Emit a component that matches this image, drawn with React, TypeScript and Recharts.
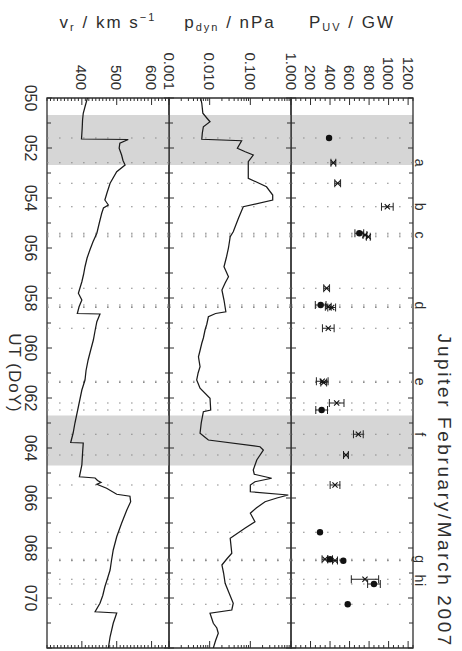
import React from "react";
import {
  ComposedChart,
  Line,
  Scatter,
  ErrorBar,
  XAxis,
  YAxis,
  ReferenceArea,
  ReferenceLine,
} from "recharts";

// day of year 2007
const doyDomain = [50, 72];
const doyLabels = [50, 52, 54, 56, 58, 60, 62, 64, 66, 68, 70];

// shaded intervals
const bandStart = [50.68, 62.7];
const bandEnd = [52.68, 64.7];

// solar wind radial velocity (km/s)
const vrDoy = [
  50.0, 50.3, 50.61, 50.88, 51.2, 51.64, 51.66, 51.81, 52.01, 52.28, 52.5, 52.68, 52.95, 53.41,
  53.8, 54.08, 54.28, 54.4, 54.61, 55.0, 55.41, 55.75, 56.08, 56.4, 56.75, 57.05, 57.35, 57.81,
  58.08, 58.35, 58.62, 58.64, 58.95, 59.3, 59.68, 60.1, 60.48, 60.9, 61.28, 61.68, 62.35, 63.01,
  63.4, 63.78, 63.8, 64.21, 64.68, 65.15, 65.2, 65.3, 65.38, 65.45, 65.61, 65.85, 65.93, 66.15,
  66.48, 67.01, 67.55, 68.08, 68.5, 68.88, 69.2, 69.55, 69.9, 70.21, 70.55, 70.6, 71.01, 71.55, 72.0,
];
const vrSpeed = [
  416, 410, 404, 402, 401, 399, 533, 509, 507, 514, 518, 524, 500, 481,
  472, 466, 476, 462, 457, 450, 443, 432, 423, 415, 409, 405, 400, 390,
  400, 392, 387, 452, 443, 438, 433, 425, 418, 412, 409, 400, 390, 380,
  375, 368, 404, 402, 400, 393, 438, 445, 455, 443, 471, 500, 538, 540,
  529, 514, 500, 490, 485, 481, 474, 466, 460, 452, 438, 500, 490, 481, 476,
];

// solar wind dynamic pressure (nPa)
const pdynDoy = [
  50.0, 50.21, 50.61, 50.8, 50.95, 51.15, 51.4, 51.65, 51.71, 52.01, 52.15, 52.28, 52.55, 53.21,
  53.55, 53.88, 54.08, 54.35, 54.81, 55.35, 55.55, 56.0, 56.35, 56.75, 57.15, 57.4, 57.68, 58.08,
  58.55, 58.62, 58.75, 59.05, 59.28, 59.6, 59.81, 60.1, 60.35, 60.75, 61.0, 61.28, 61.61, 62.01,
  62.48, 62.55, 63.0, 63.41, 63.68, 63.95, 64.08, 64.48, 64.88, 65.05, 65.21, 65.35, 65.48, 65.75,
  65.88, 66.0, 66.15, 66.4, 66.61, 66.95, 67.2, 67.61, 68.21, 68.45, 68.68, 69.0, 69.41, 69.8,
  70.21, 70.48, 70.61, 71.01, 71.2, 71.41, 71.7, 72.0,
];
const pdynPressure = [
  0.006, 0.0064, 0.0068, 0.0085, 0.0102, 0.007, 0.0066, 0.0064, 0.061, 0.048, 0.075, 0.118, 0.089, 0.089,
  0.25, 0.355, 0.355, 0.067, 0.051, 0.038, 0.032, 0.029, 0.026, 0.0225, 0.029, 0.024, 0.02, 0.0225,
  0.025, 0.014, 0.0093, 0.0085, 0.0077, 0.007, 0.0064, 0.0058, 0.0053, 0.0058, 0.0052, 0.0048, 0.0058, 0.0102,
  0.0106, 0.007, 0.0062, 0.0058, 0.0093, 0.173, 0.209, 0.144, 0.118, 0.125, 0.335, 0.13, 0.1, 0.1,
  0.857, 0.45, 0.23, 0.14, 0.1, 0.13, 0.075, 0.032, 0.035, 0.026, 0.02, 0.022, 0.024, 0.03,
  0.038, 0.035, 0.0102, 0.0123, 0.015, 0.0163, 0.014, 0.0123,
];

// auroral UV power (GW): filled dots
const dotDoy = [51.6, 55.41, 58.28, 62.48, 67.37, 68.45, 68.51, 69.44, 70.25];
const dotPower = [390, 700, 304, 314, 297, 400, 536, 850, 581];
const dotErr = [0, 45, 55, 60, 0, 25, 0, 65, 0];

// auroral UV power (GW): crosses
const crossDoy = [
  52.59, 53.41, 54.35, 55.48, 55.55, 57.61, 58.35, 58.38, 59.21, 61.33, 61.38, 62.2, 63.45,
  64.28, 65.48, 68.45, 68.5, 69.25,
];
const crossPower = [434, 478, 987, 758, 792, 365, 382, 417, 382, 320, 335, 468, 690, 563, 451, 348, 451, 758];
const crossErr = [25, 30, 60, 20, 20, 30, 30, 40, 60, 60, 30, 75, 50, 25, 50, 30, 25, 140];

// event letters
const letterNames = ["a", "b", "c", "d", "e", "f", "g", "h", "i"];
const letterDoy = [52.59, 54.35, 55.48, 58.3, 61.35, 63.45, 68.45, 69.22, 69.46];

// axis tick labels
const vrTickLabels = [400, 500, 600];
const pdynTickLabels = [0.001, 0.01, 0.1, 1];
const puvTickLabels = [200, 400, 600, 800, 1000, 1200];

const INK = "#2e2e2e";
const FONT = "'Liberation Sans', Arial, sans-serif";
const W = 651;
const H = 462;
const PLOT_L = 98;
const PLOT_R = 648;
const PANEL_H = 122;

const doyTicks: number[] = [];
for (let d = doyDomain[0]; d <= doyDomain[1]; d++) doyTicks.push(d);
const vrTicks: number[] = [];
for (let v = 300; v <= 650; v += 10) vrTicks.push(v);
const puvTicks: number[] = [];
for (let v = 0; v <= 1250; v += 50) puvTicks.push(v);
const pdynTicks: number[] = [];
for (let k = -3; k < 0; k++) for (let m = 1; m < 10; m++) pdynTicks.push(m * Math.pow(10, k));
pdynTicks.push(1);

const vrData = vrDoy.map((doy, i) => ({ doy, v: vrSpeed[i] }));
const pdynData = pdynDoy.map((doy, i) => ({ doy, p: pdynPressure[i] }));
const dotData = dotDoy.map((doy, i) => ({ doy, p: dotPower[i], err: dotErr[i] }));
const crossData = crossDoy.map((doy, i) => ({ doy, p: crossPower[i], err: crossErr[i] }));
const obsTimes = Array.from(new Set([...dotDoy, ...crossDoy])).sort((a, b) => a - b);

function valueTick(labels: number[], fmt: (v: number) => string) {
  return (props: any) => {
    const { y, payload } = props;
    const v = payload.value;
    const major = labels.some((m) => Math.abs(m - v) < 1e-9);
    const len = major ? 7 : 3;
    return (
      <g>
        <line x1={PLOT_L} x2={PLOT_L + len} y1={y} y2={y} stroke={INK} strokeWidth={1} />
        <line x1={PLOT_R} x2={PLOT_R - len} y1={y} y2={y} stroke={INK} strokeWidth={1} />
        {major && (
          <text x={PLOT_L - 8} y={y} textAnchor="end" dominantBaseline="central" fontSize={15} fill={INK}>
            {fmt(v)}
          </text>
        )}
      </g>
    );
  };
}

function doyTick(plotTop: number, withLabels: boolean) {
  return (props: any) => {
    const { x, y, payload } = props;
    const v = payload.value;
    const len = v % 2 === 0 ? 5 : 4;
    return (
      <g>
        <line x1={x} x2={x} y1={y} y2={y - len} stroke={INK} strokeWidth={1} />
        <line x1={x} x2={x} y1={plotTop} y2={plotTop + len} stroke={INK} strokeWidth={1} />
        {withLabels && doyLabels.includes(v) && (
          <text x={x} y={y + 22} textAnchor="middle" fontSize={16} fill={INK}>
            {String(v).padStart(3, "0")}
          </text>
        )}
      </g>
    );
  };
}

function backdrop() {
  return [
    ...bandStart.map((s, i) => (
      <ReferenceArea key={`band${i}`} x1={s} x2={bandEnd[i]} fill="#d6d6d6" fillOpacity={1} stroke="none" />
    )),
    ...obsTimes.map((t) => (
      <ReferenceLine key={`obs${t}`} x={t} stroke="#8c8c8c" strokeWidth={1.2} strokeDasharray="1.6 10.4" />
    )),
  ];
}

function frame() {
  return <ReferenceArea key="frame" x1={doyDomain[0]} x2={doyDomain[1]} fill="none" stroke={INK} strokeWidth={1.3} />;
}

function xAxis(mt: number, withLabels: boolean) {
  return (
    <XAxis
      type="number"
      dataKey="doy"
      domain={doyDomain}
      allowDataOverflow
      ticks={doyTicks}
      interval={0}
      height={1}
      axisLine={false}
      tickLine={false}
      tickSize={0}
      tickMargin={0}
      tick={doyTick(mt, withLabels)}
    />
  );
}

const Cross = (props: any) => {
  const { cx, cy } = props;
  return (
    <path
      d={`M${cx - 2.6},${cy - 2.6}L${cx + 2.6},${cy + 2.6}M${cx - 2.6},${cy + 2.6}L${cx + 2.6},${cy - 2.6}`}
      stroke="#111"
      strokeWidth={1.1}
      fill="none"
    />
  );
};

const Dot = (props: any) => <circle cx={props.cx} cy={props.cy} r={3.2} fill="#111" />;

export default function App() {
  const puvMt = 20;
  const mt = 12;
  const mb = 12;
  const vrMb = 30;
  return (
    <div
      style={{
        position: "absolute",
        left: 0,
        top: 0,
        width: W,
        height: H,
        transformOrigin: "0 0",
        transform: `translate(${H}px, 0) rotate(90deg)`,
        fontFamily: FONT,
        background: "#fff",
      }}
    >
      {/* P_UV panel */}
      <div style={{ position: "absolute", left: 0, top: 49 - puvMt }}>
        <ComposedChart
          width={W}
          height={puvMt + PANEL_H + mb}
          margin={{ top: puvMt, right: W - PLOT_R, bottom: mb - 1, left: 0 }}
        >
          {xAxis(puvMt, false)}
          <YAxis
            type="number"
            domain={[0, 1250]}
            allowDataOverflow
            ticks={puvTicks}
            interval={0}
            width={PLOT_L}
            axisLine={false}
            tickLine={false}
            tickSize={0}
            tickMargin={0}
            tick={valueTick(puvTickLabels, (v) => String(v))}
          />
          {backdrop()}
          {letterNames.map((l, i) => (
            <ReferenceLine
              key={`lab${l}`}
              x={letterDoy[i]}
              stroke="none"
              label={{ value: l, position: "top", offset: 2, fontSize: 14, fill: INK }}
            />
          ))}
          <Scatter data={crossData} dataKey="p" shape={Cross} isAnimationActive={false}>
            <ErrorBar dataKey="err" direction="y" width={4} stroke="#222" strokeWidth={1} />
          </Scatter>
          <Scatter data={dotData} dataKey="p" shape={Dot} isAnimationActive={false}>
            <ErrorBar dataKey="err" direction="y" width={4} stroke="#222" strokeWidth={1} />
          </Scatter>
          {frame()}
        </ComposedChart>
      </div>

      {/* p_dyn panel */}
      <div style={{ position: "absolute", left: 0, top: 171 - mt }}>
        <ComposedChart
          width={W}
          height={mt + PANEL_H + mb}
          margin={{ top: mt, right: W - PLOT_R, bottom: mb - 1, left: 0 }}
        >
          {xAxis(mt, false)}
          <YAxis
            type="number"
            scale="log"
            domain={[0.001, 1]}
            allowDataOverflow
            ticks={pdynTicks}
            interval={0}
            width={PLOT_L}
            axisLine={false}
            tickLine={false}
            tickSize={0}
            tickMargin={0}
            tick={valueTick(pdynTickLabels, (v) => v.toFixed(3))}
          />
          {backdrop()}
          <Line
            data={pdynData}
            dataKey="p"
            type="linear"
            stroke="#1a1a1a"
            strokeWidth={1.25}
            dot={false}
            isAnimationActive={false}
          />
          {frame()}
        </ComposedChart>
      </div>

      {/* v_r panel */}
      <div style={{ position: "absolute", left: 0, top: 293 - mt }}>
        <ComposedChart
          width={W}
          height={mt + PANEL_H + vrMb}
          margin={{ top: mt, right: W - PLOT_R, bottom: vrMb - 1, left: 0 }}
        >
          {xAxis(mt, true)}
          <YAxis
            type="number"
            domain={[300, 650]}
            allowDataOverflow
            ticks={vrTicks}
            interval={0}
            width={PLOT_L}
            axisLine={false}
            tickLine={false}
            tickSize={0}
            tickMargin={0}
            tick={valueTick(vrTickLabels, (v) => String(v))}
          />
          {backdrop()}
          <Line
            data={vrData}
            dataKey="v"
            type="linear"
            stroke="#1a1a1a"
            strokeWidth={1.25}
            dot={false}
            isAnimationActive={false}
          />
          {frame()}
        </ComposedChart>
      </div>

      {/* titles */}
      <svg width={W} height={H} style={{ position: "absolute", left: 0, top: 0, pointerEvents: "none" }}>
        <text x={PLOT_R} y={24} textAnchor="end" fontSize={19} letterSpacing={2.6} fill={INK}>
          Jupiter February/March 2007
        </text>
        <text x={(PLOT_L + PLOT_R) / 2} y={453} textAnchor="middle" fontSize={17} letterSpacing={1} fill={INK}>
          UT (DoY)
        </text>
        <text transform="translate(28,110) rotate(-90)" textAnchor="middle" fontSize={17} letterSpacing={2} fill={INK}>
          P<tspan fontSize={11} dy={3}>UV</tspan>
          <tspan dy={-3}> / GW</tspan>
        </text>
        <text transform="translate(28,232) rotate(-90)" textAnchor="middle" fontSize={17} letterSpacing={2} fill={INK}>
          p<tspan fontSize={11} dy={3}>dyn</tspan>
          <tspan dy={-3}> / nPa</tspan>
        </text>
        <text transform="translate(28,354) rotate(-90)" textAnchor="middle" fontSize={17} letterSpacing={2} fill={INK}>
          v<tspan fontSize={11} dy={3}>r</tspan>
          <tspan dy={-3}> / km s</tspan>
          <tspan fontSize={11} dy={-7}>−1</tspan>
        </text>
      </svg>
    </div>
  );
}
